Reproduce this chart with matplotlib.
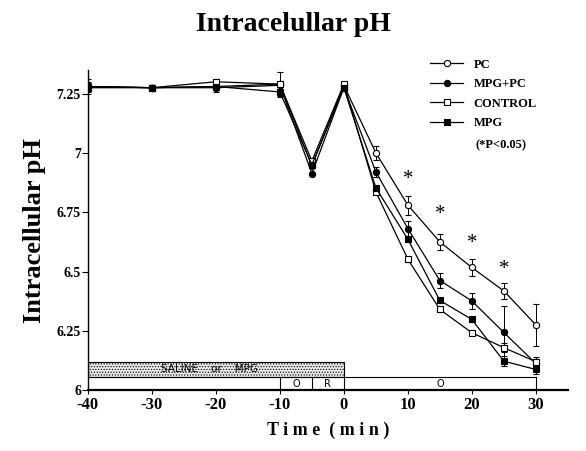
import numpy as np
import matplotlib.pyplot as plt
from matplotlib.patches import Rectangle
from matplotlib.lines import Line2D

plt.rcParams['axes.unicode_minus'] = False
plt.rcParams['hatch.linewidth'] = 0.5
plt.rcParams['hatch.color'] = '#555555'

# time points (min)
t = [-40, -30, -20, -10, -5, 0, 5, 10, 15, 20, 25, 30]

ph_pc = [7.28, 7.275, 7.28, 7.29, 6.945, 7.285, 7.00, 6.78, 6.625, 6.517, 6.418, 6.275]
ph_mpgpc = [7.28, 7.275, 7.275, 7.285, 6.913, 7.275, 6.92, 6.681, 6.462, 6.376, 6.243, 6.112]
ph_control = [7.275, 7.275, 7.30, 7.29, 6.966, 7.29, 6.836, 6.552, 6.34, 6.242, 6.179, 6.12]
ph_mpg = [7.28, 7.275, 7.28, 7.257, 6.95, 7.275, 6.853, 6.636, 6.378, 6.298, 6.122, 6.087]

err_pc = [0.03, 0.01, 0.01, 0.05, 0.0, 0.01, 0.03, 0.04, 0.035, 0.035, 0.035, 0.09]
err_mpgpc = [0.02, 0.01, 0.02, 0.02, 0.0, 0.01, 0.02, 0.03, 0.03, 0.035, 0.11, 0.02]
err_control = [0.02, 0.01, 0.01, 0.01, 0.0, 0.01, 0.01, 0.01, 0.01, 0.01, 0.02, 0.02]
err_mpg = [0.01, 0.01, 0.01, 0.02, 0.0, 0.01, 0.01, 0.01, 0.01, 0.01, 0.02, 0.02]

star_t = [10, 15, 20, 25]
star_y = [6.89, 6.74, 6.62, 6.51]

serif = 'Liberation Serif'

fig = plt.figure(figsize=(5.86, 4.51), dpi=100)
ax = fig.add_axes([0.150, 0.135, 0.819, 0.710])

series = [
    ('PC', ph_pc, err_pc, 'o', 'white'),
    ('MPG+PC', ph_mpgpc, err_mpgpc, 'o', 'black'),
    ('CONTROL', ph_control, err_control, 's', 'white'),
    ('MPG', ph_mpg, err_mpg, 's', 'black'),
]
handles = []
for name, y, e, m, fc in series:
    ax.errorbar(t, y, yerr=e, color='black', lw=0.9, elinewidth=0.7, capsize=2.5,
                capthick=0.7, marker=m, markersize=4.5, markerfacecolor=fc,
                markeredgecolor='black', markeredgewidth=0.8)
    handles.append(Line2D([], [], color='black', lw=0.9, marker=m, markersize=4.5,
                          markerfacecolor=fc, markeredgecolor='black',
                          markeredgewidth=0.8, label=name))

for xs, ys in zip(star_t, star_y):
    ax.text(xs, ys, '*', ha='center', va='center', fontsize=15, family=serif)

# protocol bars along the bottom
ax.add_patch(Rectangle((-40, 6.055), 40, 0.065, facecolor='#e6e6e6', edgecolor='black',
                       hatch='......', lw=0.8, zorder=1))
ax.plot([-40, 30], [6.055, 6.055], color='black', lw=0.8)
for xv in [-10, -5, 0, 30]:
    ax.plot([xv, xv], [6.0, 6.055], color='black', lw=0.8)
ax.text(-21, 6.088, 'SALINE    or    MPG', ha='center', va='center', fontsize=7.5,
        family='DejaVu Sans', zorder=5)
ax.text(-7.5, 6.027, 'O', ha='center', va='center', fontsize=7, family='DejaVu Sans')
ax.text(-2.5, 6.027, 'R', ha='center', va='center', fontsize=7, family='DejaVu Sans')
ax.text(15, 6.027, 'O', ha='center', va='center', fontsize=7, family='DejaVu Sans')

ax.set_xlim(-40, 35)
ax.set_ylim(6.0, 7.35)
ax.set_xticks([-40, -30, -20, -10, 0, 10, 20, 30])
ax.set_yticks([6, 6.25, 6.5, 6.75, 7, 7.25])
ax.set_yticklabels(['6', '6.25', '6.5', '6.75', '7', '7.25'])
ax.spines['top'].set_visible(False)
ax.spines['right'].set_visible(False)
ax.spines['bottom'].set_linewidth(1.6)
ax.spines['left'].set_linewidth(1.0)
ax.tick_params(axis='y', length=4, width=0.8, pad=1)
ax.tick_params(axis='x', length=3, width=0.8, pad=2)
for lab in ax.get_xticklabels():
    lab.set_family(serif)
    lab.set_fontweight('bold')
    lab.set_fontsize(12)
for lab in ax.get_yticklabels():
    lab.set_family(serif)
    lab.set_fontweight('bold')
    lab.set_fontsize(10)

ax.set_xlabel('T i m e  ( m i n )', family=serif, fontweight='bold', fontsize=13, labelpad=6)
ax.set_ylabel('Intracellular pH', family=serif, fontweight='bold', fontsize=19, labelpad=8)
fig.text(0.50, 0.945, 'Intracelullar pH', ha='center', va='center', family=serif,
         fontweight='bold', fontsize=20)

leg = ax.legend(handles=handles, loc='upper left', bbox_to_anchor=(0.69, 1.07),
                frameon=False, prop={'family': serif, 'weight': 'bold', 'size': 9},
                handlelength=2.6, labelspacing=0.6, handletextpad=0.85)
fig.text(0.812, 0.678, '(*P<0.05)', ha='left', va='center', family=serif,
         fontweight='bold', fontsize=9)

fig.savefig('out.png', dpi=100)
